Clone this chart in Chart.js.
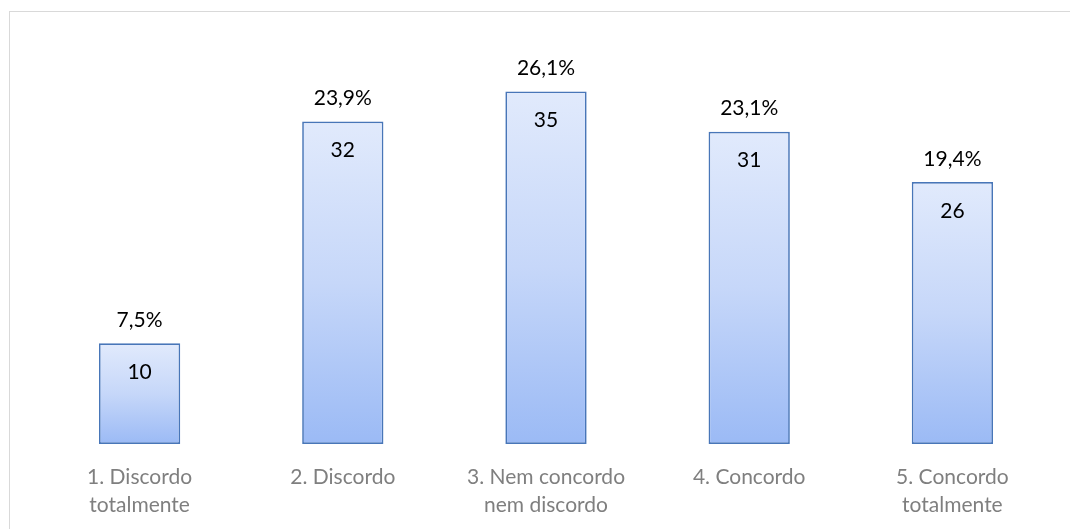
<!DOCTYPE html>
<html>
<head>
<meta charset="utf-8">
<script src="https://cdn.jsdelivr.net/npm/chart.js@4/dist/chart.umd.min.js"></script>
<style>
  body { margin: 0; background: #fff; }
  #kader {
    position: absolute; left: 9px; top: 11px; width: 1200px; height: 700px;
    border-top: 1px solid #d9d9d9; border-left: 1px solid #d9d9d9;
  }
  #grafiek { position: absolute; left: 0; top: 0; }
</style>
</head>
<body>
<div id="kader"></div>
<canvas id="grafiek" width="1070" height="529"></canvas>
<script>
// antwoorden per categorie
const categorieen = [
  ['1. Discordo', 'totalmente'],
  '2. Discordo',
  ['3. Nem concordo', 'nem discordo'],
  '4. Concordo',
  ['5. Concordo', 'totalmente']
];
const aantallen = [10, 32, 35, 31, 26];
const percentages = ['7,5%', '23,9%', '26,1%', '23,1%', '19,4%'];

const lettertype = 'Lato, "Open Sans", sans-serif';

// verloop per staaf: licht boven, donkerder onder
function staafVerloop(context) {
  const chart = context.chart;
  const y = chart.scales.y;
  if (!chart.chartArea || !y || context.dataIndex === undefined) return '#c3d5f8';
  const top = y.getPixelForValue(aantallen[context.dataIndex]);
  const bodem = y.getPixelForValue(0);
  const g = chart.ctx.createLinearGradient(0, top, 0, bodem);
  g.addColorStop(0, '#e1eafc');
  g.addColorStop(0.5, '#c6d7f9');
  g.addColorStop(1, '#9bbaf5');
  return g;
}

// aantal in de staaf, percentage erboven
const labelsPlugin = {
  id: 'staafLabels',
  afterDatasetsDraw(chart) {
    const ctx = chart.ctx;
    const meta = chart.getDatasetMeta(0);
    ctx.save();
    ctx.font = '21px ' + lettertype;
    ctx.fillStyle = '#000';
    ctx.textAlign = 'center';
    ctx.textBaseline = 'middle';
    meta.data.forEach((bar, i) => {
      ctx.fillText(percentages[i], bar.x, bar.y - 23);
      ctx.fillText(String(aantallen[i]), bar.x, bar.y + 29);
    });
    ctx.restore();
  }
};

const ctx = document.getElementById('grafiek').getContext('2d');
new Chart(ctx, {
  type: 'bar',
  data: {
    labels: categorieen,
    datasets: [{
      data: aantallen,
      backgroundColor: staafVerloop,
      borderColor: '#4876b8',
      borderWidth: 1.7,
      borderSkipped: false,
      categoryPercentage: 1,
      barPercentage: 0.4
    }]
  },
  options: {
    responsive: false,
    animation: false,
    layout: { padding: { left: 38, right: 16, top: 41, bottom: 0 } },
    plugins: { legend: { display: false }, tooltip: { enabled: false } },
    scales: {
      x: {
        grid: { display: false, drawTicks: false },
        border: { display: false },
        afterFit(scale) { scale.height = 85; },
        ticks: {
          color: '#7f7f7f',
          padding: 19,
          maxRotation: 0,
          autoSkip: false,
          font: { family: lettertype, size: 21, lineHeight: 1.33 }
        }
      },
      y: {
        display: false,
        min: 0,
        max: 40
      }
    }
  },
  plugins: [labelsPlugin]
});
</script>
</body>
</html>
